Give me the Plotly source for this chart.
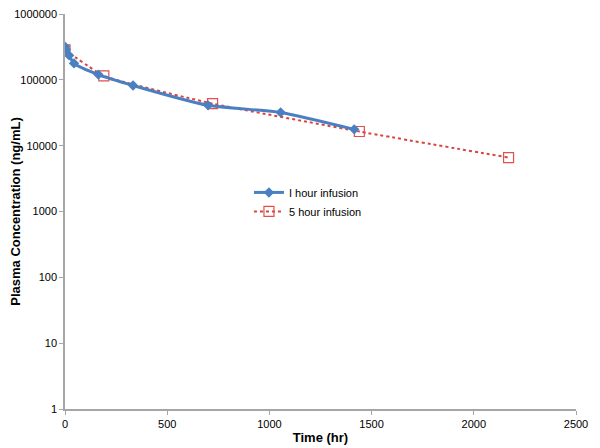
import plotly.graph_objects as go

# 1 hour infusion
t1 = [0, 5, 20, 44, 163, 333, 700, 1055, 1415]
c1 = [320000, 290000, 235000, 178000, 120000, 82000, 41000, 32000, 17700]
# 5 hour infusion
t5 = [0, 190, 722, 1440, 2170]
c5 = [285000, 115000, 43500, 16400, 6600]

y_ticks = [1, 10, 100, 1000, 10000, 100000, 1000000]
y_labels = ["1", "10", "100", "1000", "10000", "100000", "1000000"]
x_ticks = [0, 500, 1000, 1500, 2000, 2500]

fig = go.Figure()
fig.add_trace(go.Scatter(
    x=t5, y=c5, mode="lines+markers", name="5 hour infusion", legendrank=2,
    line=dict(color="#d9443f", width=2, dash="dot", shape="spline", smoothing=0.4),
    marker=dict(symbol="square-open", size=10, color="#e0504d", line=dict(width=1.2)),
))
fig.add_trace(go.Scatter(
    x=t1, y=c1, mode="lines+markers", name="I hour infusion", legendrank=1,
    line=dict(color="#4a7fc1", width=3, shape="spline", smoothing=0.6),
    marker=dict(symbol="diamond", size=8, color="#4a7fc1"),
))

fig.update_layout(
    width=592, height=440,
    margin=dict(l=57, r=24, t=6, b=39, autoexpand=False),
    plot_bgcolor="white", paper_bgcolor="white",
    font=dict(family="Liberation Sans, Arial, sans-serif", size=11, color="black"),
    showlegend=True,
    legend=dict(x=0.36, y=0.585, xanchor="left", yanchor="top",
                bgcolor="rgba(0,0,0,0)", font=dict(size=11)),
    xaxis=dict(
        range=[0, 2500], tickvals=x_ticks, showgrid=False, zeroline=False,
        showline=True, linecolor="#a6a6a6", linewidth=1.5,
        ticks="outside", ticklen=4, tickcolor="#a6a6a6", automargin=False,
        ticklabeloverflow="allow",
        title=dict(text="<b>Time (hr)</b>", font=dict(size=13), standoff=4),
    ),
    yaxis=dict(
        type="log", range=[0, 6], tickvals=y_ticks, ticktext=y_labels,
        showgrid=False, zeroline=False,
        showline=True, linecolor="#a6a6a6", linewidth=1.5,
        ticks="outside", ticklen=4, tickcolor="#a6a6a6", automargin=False,
        ticklabeloverflow="allow",
        title=dict(text="<b>Plasma Concentration (ng/mL)</b>", font=dict(size=13), standoff=4),
    ),
)

fig.write_html("out.html")
